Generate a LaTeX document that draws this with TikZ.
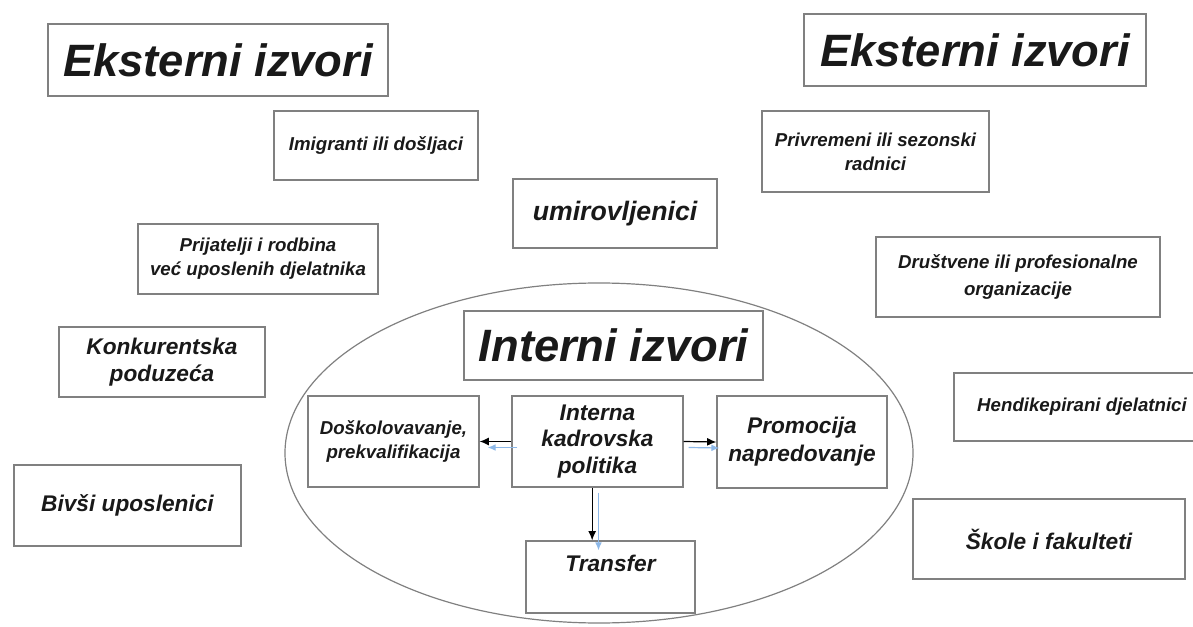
\documentclass[tikz,border=0pt]{standalone}
\usepackage{fontspec}
\setmainfont{Liberation Sans}
\usetikzlibrary{shapes.geometric,arrows.meta}
\definecolor{lightarrow}{HTML}{8DB8E8}
\begin{document}
\begin{tikzpicture}[x=0.75pt,y=-0.75pt]
		\tikzstyle{box}=[draw=black!50,line width=0.9pt,align=center,inner sep=2pt,text=black!90,font=\bfseries\itshape\fontsize{14}{18}\selectfont]
		\tikzstyle{midbox}=[box,font=\bfseries\itshape\fontsize{17}{20}\selectfont]
		\tikzstyle{title}=[box,font=\bfseries\itshape\fontsize{34}{40}\selectfont]
		\tikzstyle{edge}=[draw=black,line width=0.9pt,-{Latex[length=7pt,width=6pt]}]
		\tikzstyle{shade}=[draw=lightarrow,line width=0.9pt,-{Latex[length=6pt,width=5pt]}]

		\useasboundingbox (0,0) rectangle (1193,627);
		\clip (0,0) rectangle (1193,627);

		% eksterni izvori
		\node [title,minimum width=255pt,minimum height=54pt] (extl) at (218,60) {Eksterni izvori};
		\node [title,minimum width=256.5pt,minimum height=54pt] (extr) at (975,50) {Eksterni izvori};

		\node [box,minimum width=153pt,minimum height=51.75pt] (imig) at (376,145.5) {Imigranti ili došljaci};
		\node [box,minimum width=153pt,minimum height=51.75pt,font=\bfseries\itshape\fontsize{20}{24}\selectfont] (umir) at (615,213.5) {umirovljenici};
		\node [box,minimum width=170.25pt,minimum height=60.75pt] (privr) at (875.5,151.5) {Privremeni ili sezonski\\radnici};
		\node [box,minimum width=180pt,minimum height=52.5pt] (prij) at (258,259) {Prijatelji i rodbina\\već uposlenih djelatnika};
		\node [box,minimum width=213pt,minimum height=60pt,font=\bfseries\itshape\fontsize{14}{20}\selectfont] (drus) at (1018,277) {Društvene ili profesionalne\\organizacije};
		\node [midbox,minimum width=154.5pt,minimum height=52.5pt] (konk) at (162,362) {Konkurentska\\poduzeća};
		\node [box,minimum width=192pt,minimum height=51pt] (hend) at (1082,407) {Hendikepirani djelatnici};
		\node [midbox,minimum width=170.25pt,minimum height=60.75pt] (bivs) at (127.5,505.5) {Bivši uposlenici};
		\node [midbox,minimum width=204pt,minimum height=60pt] (skol) at (1049,539) {Škole i fakulteti};

		% interni izvori
		\node [ellipse,draw=black!50,line width=0.9pt,minimum width=471pt,minimum height=255pt] (pool) at (599,453) {};
		\node [title,minimum width=224.25pt,minimum height=51.75pt] (intl) at (613.5,345.5) {Interni izvori};

		\node [box,minimum width=128.25pt,minimum height=68.25pt] (dosk) at (393.5,441.5) {Doškolovavanje,\\prekvalifikacija};
		\node [midbox,minimum width=128.25pt,minimum height=68.25pt] (polit) at (597.5,441.5) {Interna\\kadrovska\\politika};
		\node [midbox,minimum width=127.5pt,minimum height=69pt,font=\bfseries\itshape\fontsize{17}{21}\selectfont] (prom) at (802,442) {Promocija\\napredovanje};
		\node [midbox,minimum width=126.75pt,minimum height=54pt] (trans) at (610.5,577) {Transfer\\\mbox{}};

		\path[edge] (polit.west) -- (dosk.east);
		\path[edge] (polit.east) -- (prom.west);
		\path[edge] ([xshift=-4]polit.south) -- ([xshift=-4]polit.south |- trans.north);
		\path[shade] ([shift={(6,6)}]polit.west) -- ([shift={(8,6)}]dosk.east);
		\path[shade] ([shift={(5,6)}]polit.east) -- ([shift={(3,6)}]prom.west);
		\path[shade] ([shift={(1,5)}]polit.south) -- ([shift={(1,10)}]polit.south |- trans.north);

\end{tikzpicture}
\end{document}
